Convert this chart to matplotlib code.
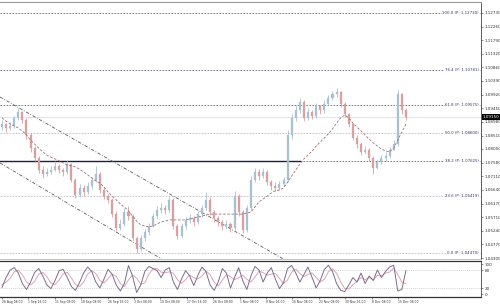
import matplotlib
matplotlib.use('Agg')
import matplotlib.pyplot as plt
import matplotlib.transforms as mtrans
import numpy as np

# ---------------- data ----------------
first_open = 1.0880
close = [1.0891, 1.0877, 1.0884, 1.0912, 1.0932, 1.0905, 1.0853, 1.0808, 1.0774, 1.0733,
         1.0719, 1.0726, 1.0733, 1.0747, 1.0733, 1.0726, 1.0753, 1.0698, 1.0647, 1.0671,
         1.0657, 1.0678, 1.0698, 1.0719, 1.0664, 1.0643, 1.0630, 1.0581, 1.0533, 1.0547,
         1.0588, 1.0574, 1.0499, 1.0461, 1.0499, 1.0519, 1.0540, 1.0574, 1.0595, 1.0602,
         1.0595, 1.0630, 1.0540, 1.0506, 1.0540, 1.0561, 1.0568, 1.0554, 1.0581, 1.0602,
         1.0630, 1.0588, 1.0568, 1.0554, 1.0540, 1.0547, 1.0533, 1.0643, 1.0588, 1.0526,
         1.0602, 1.0698, 1.0726, 1.0712, 1.0726, 1.0691, 1.0678, 1.0671, 1.0685, 1.0698,
         1.0853, 1.0912, 1.0939, 1.0967, 1.0912, 1.0932, 1.0919, 1.0953, 1.0939, 1.0960,
         1.0980, 1.0994, 1.1001, 1.0960, 1.0925, 1.0891, 1.0843, 1.0822, 1.0795, 1.0802,
         1.0774, 1.0740, 1.0760, 1.0774, 1.0781, 1.0802, 1.0822, 1.0994, 1.0939, 1.0915]
high = [1.0905, 1.0895, 1.0898, 1.0920, 1.0946, 1.0935, 1.0910, 1.0860, 1.0815, 1.0780,
        1.0745, 1.0740, 1.0748, 1.0762, 1.0755, 1.0740, 1.0766, 1.0758, 1.0705, 1.0685,
        1.0680, 1.0690, 1.0710, 1.0745, 1.0725, 1.0672, 1.0650, 1.0636, 1.0590, 1.0565,
        1.0602, 1.0610, 1.0580, 1.0505, 1.0510, 1.0530, 1.0552, 1.0585, 1.0608, 1.0618,
        1.0612, 1.0640, 1.0636, 1.0548, 1.0552, 1.0572, 1.0580, 1.0575, 1.0592, 1.0612,
        1.0658, 1.0640, 1.0595, 1.0575, 1.0562, 1.0560, 1.0555, 1.0660, 1.0650, 1.0595,
        1.0612, 1.0712, 1.0740, 1.0735, 1.0738, 1.0732, 1.0700, 1.0690, 1.0695, 1.0710,
        1.0870, 1.0925, 1.0955, 1.0980, 1.0972, 1.0945, 1.0940, 1.0962, 1.0958, 1.0972,
        1.0992, 1.1005, 1.1015, 1.1004, 1.0968, 1.0930, 1.0895, 1.0852, 1.0830, 1.0815,
        1.0808, 1.0782, 1.0772, 1.0785, 1.0795, 1.0812, 1.0835, 1.1008, 1.0998, 1.0945]
low = [1.0870, 1.0865, 1.0870, 1.0878, 1.0905, 1.0895, 1.0840, 1.0795, 1.0762, 1.0722,
       1.0705, 1.0712, 1.0718, 1.0728, 1.0722, 1.0712, 1.0720, 1.0690, 1.0638, 1.0640,
       1.0645, 1.0650, 1.0668, 1.0690, 1.0655, 1.0632, 1.0618, 1.0570, 1.0522, 1.0525,
       1.0540, 1.0560, 1.0490, 1.0447, 1.0455, 1.0490, 1.0510, 1.0535, 1.0565, 1.0585,
       1.0580, 1.0588, 1.0530, 1.0495, 1.0500, 1.0530, 1.0550, 1.0540, 1.0548, 1.0570,
       1.0595, 1.0578, 1.0555, 1.0540, 1.0528, 1.0530, 1.0520, 1.0528, 1.0575, 1.0515,
       1.0520, 1.0595, 1.0690, 1.0700, 1.0705, 1.0680, 1.0665, 1.0660, 1.0665, 1.0678,
       1.0690, 1.0840, 1.0900, 1.0930, 1.0900, 1.0905, 1.0908, 1.0912, 1.0925, 1.0930,
       1.0955, 1.0972, 1.0985, 1.0950, 1.0915, 1.0880, 1.0835, 1.0810, 1.0785, 1.0788,
       1.0765, 1.0719, 1.0735, 1.0755, 1.0765, 1.0775, 1.0800, 1.0815, 1.0925, 1.0905]
moving_avg = [1.0912, 1.0901, 1.0891, 1.0884, 1.0877, 1.0867, 1.0853, 1.0836, 1.0822, 1.0808,
              1.0795, 1.0784, 1.0777, 1.0771, 1.0764, 1.0757, 1.0750, 1.0747, 1.0743, 1.0736,
              1.0726, 1.0716, 1.0705, 1.0695, 1.0688, 1.0674, 1.0657, 1.0643, 1.0630, 1.0616,
              1.0605, 1.0592, 1.0574, 1.0557, 1.0544, 1.0540, 1.0537, 1.0540, 1.0547, 1.0554,
              1.0557, 1.0561, 1.0561, 1.0561, 1.0561, 1.0561, 1.0564, 1.0568, 1.0571, 1.0574,
              1.0578, 1.0581, 1.0581, 1.0581, 1.0581, 1.0581, 1.0581, 1.0581, 1.0581, 1.0581,
              1.0585, 1.0588, 1.0605, 1.0623, 1.0633, 1.0643, 1.0654, 1.0661, 1.0664, 1.0671,
              1.0691, 1.0712, 1.0733, 1.0753, 1.0771, 1.0784, 1.0798, 1.0815, 1.0829, 1.0843,
              1.0857, 1.0874, 1.0894, 1.0912, 1.0922, 1.0912, 1.0894, 1.0881, 1.0867, 1.0853,
              1.0839, 1.0826, 1.0815, 1.0805, 1.0798, 1.0795, 1.0808, 1.0836, 1.0863, 1.0891]
stoch_main = [22, 55, 80, 88, 70, 35, 15, 40, 72, 85,
              60, 30, 18, 45, 78, 82, 55, 25, 12, 38,
              70, 90, 75, 40, 20, 50, 82, 66, 30, 10,
              35, 95, 60, 5, 30, 75, 92, 85, 78, 55,
              80, 88, 40, 15, 50, 78, 60, 28, 62, 90,
              75, 30, 12, 40, 85, 70, 20, 55, 88, 45,
              15, 60, 92, 80, 40, 70, 88, 50, 18, 38,
              85, 95, 70, 40, 65, 90, 55, 20, 45, 82,
              96, 75, 35, 12, 8, 30, 55, 40, 70, 35,
              60, 45, 80, 55, 75, 90, 96, 10, 15, 78]
stoch_signal = [30, 40, 52, 74, 79, 64, 40, 30, 42, 66,
                72, 58, 36, 31, 47, 68, 72, 54, 31, 25,
                40, 66, 78, 68, 45, 37, 51, 66, 59, 35,
                25, 47, 63, 53, 32, 37, 66, 84, 85, 73,
                71, 74, 69, 48, 35, 48, 63, 55, 50, 60,
                76, 65, 39, 27, 46, 65, 58, 48, 54, 63,
                49, 40, 56, 77, 71, 63, 66, 69, 52, 35,
                47, 73, 83, 68, 58, 65, 70, 55, 40, 49,
                74, 84, 69, 41, 18, 17, 31, 42, 55, 48,
                55, 47, 62, 60, 70, 73, 87, 65, 40, 34]

fib_levels = [0.0, 23.6, 38.2, 50.0, 61.8, 76.4, 100.0]
fib_low, fib_high = 1.0447, 1.1273
channel_upper = [(-0.5, 1.0984), (60.8, 1.0492)]
channel_lower = [(-0.5, 1.0757), (38.7, 1.0430)]
support_level = 1.07625
support_end_bar = 73
price_ticks = ['1.04300', '1.04770', '1.05240', '1.05710', '1.06170', '1.06640', '1.07110',
               '1.07580', '1.08050', '1.08510', '1.08980', '1.09450', '1.09920', '1.10390',
               '1.10860', '1.11320', '1.11790', '1.12260', '1.12730']
time_labels = ['26 Aug 08:00', '1 Sep 16:00', '11 Sep 08:00', '18 Sep 08:00', '26 Sep 16:00',
               '3 Oct 08:00', '10 Oct 08:00', '17 Oct 16:00', '26 Oct 08:00', '1 Nov 08:00',
               '8 Nov 16:00', '16 Nov 08:00', '23 Nov 08:00', '30 Nov 16:00', '8 Dec 08:00',
               '15 Dec 08:00']
label_step = 6.47
stoch_levels = [20, 80]
stoch_ticks = [0, 20, 80, 100]

# ---------------- figure ----------------
fig = plt.figure(figsize=(5.0, 3.06), dpi=100)
ax = fig.add_axes([0.0, 0.1536, 0.962, 0.8399])
ax2 = fig.add_axes([0.0, 0.0294, 0.962, 0.1176])

n = len(close)
x = np.arange(n)
opens = np.array([first_open] + close[:-1])
cl = np.array(close)
bull, bear = '#a9c0d0', '#d9a0a0'
cols = [bull if c >= o else bear for o, c in zip(opens, cl)]
bottoms = np.minimum(opens, cl)
heights = np.maximum(np.abs(cl - opens), 0.00008)

xmin, xmax = -0.49, 117.4
ax.set_xlim(xmin, xmax)
ax.set_ylim(1.04266, 1.13106)

ytr = mtrans.blended_transform_factory(ax.transAxes, ax.transData)

# fib levels
for lvl in fib_levels:
    p = fib_low + (fib_high - fib_low) * lvl / 100.0
    dark = lvl in (100.0, 76.4, 61.8, 38.2)
    ax.axhline(p, color='#6a6a78' if dark else '#bcbcc4', lw=0.6,
               ls=(0, (2.0, 1.6)), zorder=1)
    ax.text(0.995, p, f'{lvl:.1f} (P: {p:.5f})', transform=ytr, ha='right',
            va='center', fontsize=2.8, color='#33336a', zorder=5,
            bbox=dict(fc='white', ec='none', pad=0.2))

# bid line
ax.axhline(close[-1], color='#d8d8d8', lw=0.5, zorder=1)
# support solid line
ax.plot([xmin, support_end_bar], [support_level, support_level], color='#1c1c50',
        lw=1.0, zorder=2)
# channels
for ch in (channel_upper, channel_lower):
    ax.axline(ch[0], ch[1], color='#5a5a5a', lw=0.6, ls=(0, (4, 2, 1, 2)), zorder=2)

# candles
ax.vlines(x, low, high, colors=cols, lw=0.6, zorder=3)
ax.bar(x, heights, bottom=bottoms, width=0.5, color=cols, edgecolor=cols,
       lw=0.2, zorder=3)
# moving average
ax.plot(x, moving_avg, color='#a07070', lw=0.6, dashes=(3, 2), zorder=4)

# axes styling
ax.yaxis.tick_right()
ax.set_yticks([float(t) for t in price_ticks])
ax.set_yticklabels(price_ticks)
ax.set_xticks([])
ax.tick_params(axis='y', labelsize=3, length=1.5, width=0.4, pad=1, colors='#333333')
ax.spines['left'].set_visible(False)
ax.spines['top'].set_color('#999999')
ax.spines['top'].set_linewidth(0.8)
ax.spines['bottom'].set_color('#aaaaaa')
ax.spines['bottom'].set_linewidth(0.5)
ax.spines['right'].set_color('#444444')
ax.spines['right'].set_linewidth(0.6)

# current price box
ax.text(1.004, close[-1], f'{close[-1]:.5f}', transform=ytr, ha='left', va='center',
        fontsize=3, color='white', clip_on=False, zorder=6,
        bbox=dict(fc='black', ec='none', pad=0.4))

# stochastic panel
ax2.set_xlim(xmin, xmax)
ax2.set_ylim(-10, 110)
for lv in stoch_levels:
    ax2.axhline(lv, color='#c4c4c4', lw=0.5, ls=(0, (1.5, 1.5)))
ax2.plot(x, stoch_signal, color='#dca4b8', lw=0.7)
ax2.plot(x, stoch_main, color='#7d6c8c', lw=0.7)
ax2.yaxis.tick_right()
ax2.set_yticks(stoch_ticks)
ax2.set_yticklabels([str(t) for t in stoch_ticks])
ax2.tick_params(axis='y', labelsize=3, length=1.5, width=0.4, pad=1, colors='#333333')
ax2.set_xticks([k * label_step for k in range(len(time_labels))])
ax2.set_xticklabels(time_labels, ha='left')
ax2.tick_params(axis='x', labelsize=2.2, length=1.5, width=0.4, pad=1, colors='#333333')
ax2.spines['left'].set_visible(False)
for s in ('top', 'bottom'):
    ax2.spines[s].set_color('#333333')
    ax2.spines[s].set_linewidth(0.9)
ax2.spines['right'].set_color('#444444')
ax2.spines['right'].set_linewidth(0.6)

fig.savefig('out.png', dpi=100)
